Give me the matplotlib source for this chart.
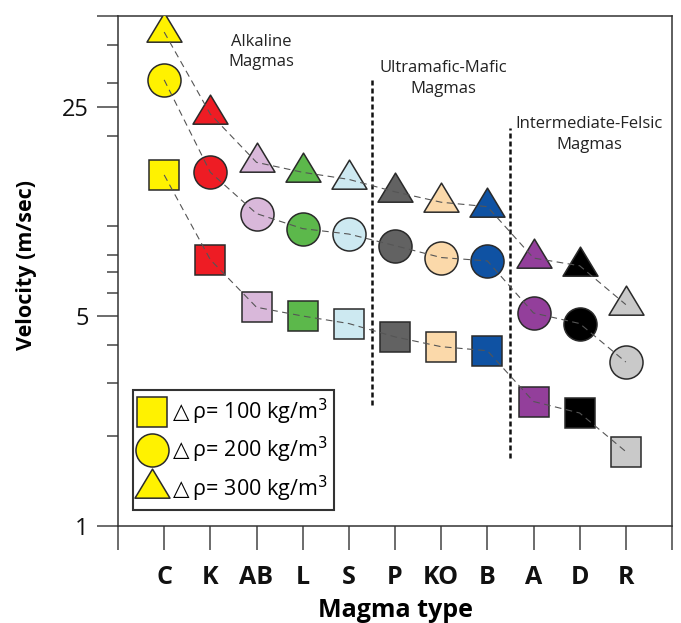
import matplotlib
matplotlib.use("Agg")
import matplotlib.pyplot as plt
from matplotlib.path import Path
from matplotlib.lines import Line2D
from matplotlib.ticker import FixedLocator, FixedFormatter, NullFormatter

plt.rcParams['font.family'] = ['Open Sans', 'DejaVu Sans']

categories = ['C', 'K', 'AB', 'L', 'S', 'P', 'KO', 'B', 'A', 'D', 'R']
colors = ['#FFF200', '#EE1C24', '#D9B8DA', '#5CB84B', '#CDE9F1', '#626262',
          '#FBD9AA', '#0F52A3', '#933F9B', '#000000', '#C9C9C9']
v100 = [14.8, 7.72, 5.36, 5.01, 4.73, 4.27, 3.96, 3.84, 2.60, 2.38, 1.77]
v200 = [30.7, 15.1, 11.0, 9.8, 9.4, 8.6, 7.85, 7.65, 5.13, 4.73, 3.52]
v300 = [44.3, 23.6, 16.3, 15.1, 14.3, 13.0, 12.0, 11.6, 7.82, 7.37, 5.47]
legend_labels = [r'$\triangle$ρ= 100 kg/m$^3$', r'$\triangle$ρ= 200 kg/m$^3$',
                 r'$\triangle$ρ= 300 kg/m$^3$']

# triangle marker with centroid at origin
W, H = 1.0, 0.83
tri_verts = [(-W/2, -H/3), (W/2, -H/3), (0, 2*H/3), (-W/2, -H/3)]
tri = Path(tri_verts, [Path.MOVETO, Path.LINETO, Path.LINETO, Path.CLOSEPOLY])

fig = plt.figure(figsize=(6.81, 6.23), dpi=100)
ax = fig.add_axes([118/681, (623-526)/623, (672-118)/681, (526-16.3)/623])
ax.set_yscale('log')
ax.set_xlim(0, 12)
ax.set_ylim(1, 50)

x = list(range(1, len(categories) + 1))
ec = '#2a2a2a'
styles = [('s', 22.3, v100), ('o', 23.8, v200), (tri, 27.9, v300)]
for mk, ms, vals in styles:
    for xi, yi, c in zip(x, vals, colors):
        ax.plot([xi], [yi], marker=mk, ms=ms, mfc=c, mec=ec, mew=1.1,
                ls='none', zorder=3)
    ax.plot(x, vals, ls=(0, (6, 4)), lw=0.8, color='#555555', zorder=4)

# group separators
ax.plot([5.5, 5.5], [2.53, 30.7], ls=(0, (2, 1.2)), lw=1.8, color='#111111', zorder=2)
ax.plot([8.5, 8.5], [1.69, 21.2], ls=(0, (2, 1.2)), lw=1.8, color='#111111', zorder=2)

tkw = dict(ha='center', va='center', fontsize=12, linespacing=1.4, color='#222222')
ax.text(3.1, 38.0, 'Alkaline\nMagmas', **tkw)
ax.text(7.04, 31.0, 'Ultramafic-Mafic\nMagmas', **tkw)
ax.text(10.2, 20.2, 'Intermediate-Felsic\nMagmas', **tkw)

# ticks
ax.yaxis.set_major_locator(FixedLocator([1, 5, 25, 50]))
ax.yaxis.set_major_formatter(FixedFormatter(['1', '5', '25', '']))
ax.yaxis.set_minor_locator(FixedLocator([2, 3, 4, 6, 7, 8, 10, 20, 30, 40]))
ax.yaxis.set_minor_formatter(NullFormatter())
ax.set_xticks(range(0, 13))
ax.set_xticklabels([''] + categories + [''], fontweight='bold', fontsize=18)
ax.tick_params(axis='y', which='major', length=15, width=1.1, colors='#444444',
               labelsize=17, pad=6, labelcolor='#111111')
ax.tick_params(axis='y', which='minor', length=8, width=1.1, colors='#444444')
ax.tick_params(axis='x', which='major', length=17, width=1.1, colors='#444444',
               pad=11, labelcolor='#111111')
for sp in ax.spines.values():
    sp.set_linewidth(1.1)
    sp.set_color('#333333')

ax.set_xlabel('Magma type', fontsize=18, fontweight='bold', labelpad=6)
ax.set_ylabel('Velocity (m/sec)', fontsize=15.5, fontweight='bold')
ax.yaxis.set_label_coords(-0.146, 0.512)

handles = [Line2D([], [], marker=mk, ms=ms, mfc=colors[0], mec=ec, mew=1.1, ls='none')
           for mk, ms, _ in styles]
leg = ax.legend(handles, legend_labels, loc='lower left',
                bbox_to_anchor=(0.027, 0.031), borderaxespad=0, fontsize=15.5,
                handlelength=1.2, handletextpad=0.12, labelspacing=0.38,
                borderpad=0.3, fancybox=False, framealpha=1, edgecolor='#333333')
leg.get_frame().set_linewidth(1.5)

fig.savefig('out.png', dpi=100, facecolor='white')
